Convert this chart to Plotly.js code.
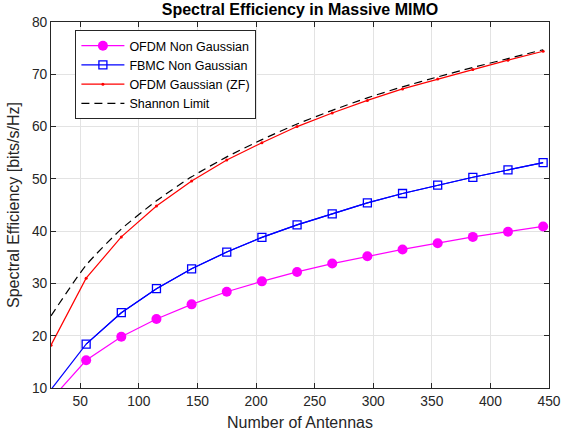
<!DOCTYPE html>
<html>
<head>
<meta charset="utf-8">
<script src="https://cdn.plot.ly/plotly-3.0.1.min.js"></script>
<style>html,body{margin:0;padding:0;background:#fff;}#chart{width:562px;height:436px;}</style>
</head>
<body>
<div id="chart"></div>
<script>
// Number of antennas
const antennas = [25, 55, 85, 115, 145, 175, 205, 235, 265, 295, 325, 355, 385, 415, 445];
// Series values (bits/s/Hz)
const ofdmNonGaussian = [7.8, 15.3, 19.8, 23.2, 26.0, 28.4, 30.4, 32.2, 33.8, 35.2, 36.5, 37.7, 38.9, 39.9, 40.9];
const fbmcNonGaussian = [9.7, 18.4, 24.4, 29.0, 32.8, 36.0, 38.8, 41.2, 43.3, 45.4, 47.2, 48.8, 50.3, 51.7, 53.1];
const ofdmGaussianZF  = [18.2, 31.0, 38.9, 44.8, 49.6, 53.6, 56.9, 60.0, 62.6, 65.0, 67.2, 69.1, 70.9, 72.7, 74.4];
const shannonLimit    = [23.8, 33.5, 40.4, 45.8, 50.4, 54.2, 57.5, 60.5, 63.1, 65.5, 67.6, 69.5, 71.3, 73.0, 74.7];
// Tick values
const xTicks = [50, 100, 150, 200, 250, 300, 350, 400, 450];
const yTicks = [10, 20, 30, 40, 50, 60, 70, 80];

const font = 'Liberation Sans, Arial, Helvetica, sans-serif';
const axisColor = '#262626';

const traces = [
  { x: antennas, y: ofdmNonGaussian, name: 'OFDM Non Gaussian', mode: 'lines+markers',
    line: {color: '#ff00ff', width: 1.2}, marker: {symbol: 'circle', size: 10, color: '#ff00ff'} },
  // blue line (full), marker trace without first (off-axis) point
  { x: antennas, y: fbmcNonGaussian, mode: 'lines', showlegend: false,
    line: {color: '#0000ff', width: 1.2} },
  { x: antennas.slice(1), y: fbmcNonGaussian.slice(1), name: 'FBMC Non Gaussian', mode: 'lines+markers',
    line: {color: '#0000ff', width: 1.2},
    marker: {symbol: 'square-open', size: 8, color: '#0000ff', line: {width: 1.3, color: '#0000ff'}} },
  { x: antennas, y: ofdmGaussianZF, name: 'OFDM Gaussian (ZF)', mode: 'lines+markers',
    line: {color: '#ff0000', width: 1.2}, marker: {symbol: 'circle', size: 3, color: '#ff0000'} },
  { x: antennas, y: shannonLimit, name: 'Shannon Limit', mode: 'lines',
    line: {color: '#000000', width: 1.2, dash: '8px,5px', shape: 'spline', smoothing: 0.6} }
];

const axisCommon = {
  showline: true, linecolor: axisColor, linewidth: 1, mirror: 'ticks',
  ticks: 'inside', ticklen: 5, tickcolor: axisColor, tickwidth: 1,
  showgrid: true, gridcolor: '#e3e3e3', gridwidth: 1, zeroline: false,
  tickfont: {family: font, size: 13.8, color: axisColor}
};

const layout = {
  width: 562, height: 436,
  margin: {l: 51, r: 13, t: 22, b: 48},
  paper_bgcolor: '#ffffff', plot_bgcolor: '#ffffff',
  title: {text: '<b>Spectral Efficiency in Massive MIMO</b>', font: {family: font, size: 16, color: '#000000'},
          x: 0.5, xref: 'paper', xanchor: 'center', y: 0.978, yref: 'container', yanchor: 'middle'},
  xaxis: Object.assign({}, axisCommon, {
    range: [25, 450], tickvals: xTicks, ticktext: xTicks.map(String),
    title: {text: 'Number of Antennas', font: {family: font, size: 16, color: axisColor}, standoff: 9}
  }),
  yaxis: Object.assign({}, axisCommon, {
    range: [10, 80], tickvals: yTicks, ticktext: yTicks.map(String),
    title: {text: 'Spectral Efficiency [bits/s/Hz]', font: {family: font, size: 16, color: axisColor}, standoff: 8}
  }),
  showlegend: true,
  legend: {
    x: 0.049, y: 0.978, xanchor: 'left', yanchor: 'top',
    bgcolor: '#ffffff', bordercolor: '#262626', borderwidth: 1,
    font: {family: font, size: 12.5, color: '#000000'},
    itemwidth: 43, tracegroupgap: 0, traceorder: 'normal'
  }
};

Plotly.newPlot('chart', traces, layout, {staticPlot: true, displayModeBar: false});
</script>
</body>
</html>
